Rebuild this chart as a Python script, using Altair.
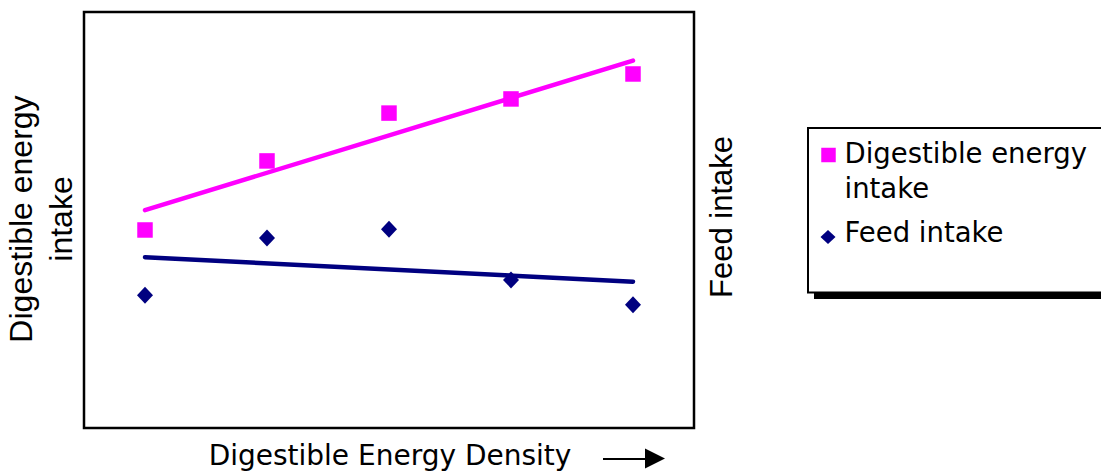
import altair as alt
import pandas as pd

# ---- data ----
density = [1, 2, 3, 4, 5]
de_intake = [47.6, 64.2, 75.7, 79.1, 85.1]
feed_intake = [31.9, 45.7, 47.8, 35.6, 29.6]
series_names = ["Digestible energy intake", "Feed intake"]
series_colors = ["#FF00FF", "#000080"]
legend_labels = ["Digestible energy\nintake", "Feed intake"]
x_title = "Digestible Energy Density"
y_title_lines = ["Digestible energy", "intake"]
y2_title = "Feed intake"

df = pd.DataFrame({
    "density": density * 2,
    "value": de_intake + feed_intake,
    "series": [series_names[0]] * len(density) + [series_names[1]] * len(density),
})
leg_df = pd.DataFrame({"series": series_names, "label": legend_labels})
one = pd.DataFrame({"a": [0]})

DIAMOND = "M0,-1L0.94,0L0,1L-0.94,0Z"
LEG_DIAMOND = "M0,-0.93L1,0L0,0.93L-1,0Z"

W, H = 610, 416
x_scale = alt.Scale(domain=[0.5, 5.5])
y_scale = alt.Scale(domain=[0, 100])
color_scale = alt.Scale(domain=series_names, range=series_colors)

X = alt.X("density:Q", scale=x_scale, axis=None)
Y = alt.Y("value:Q", scale=y_scale, axis=None)
C = alt.Color("series:N", scale=color_scale, legend=None)

lines = alt.Chart(df).transform_regression(
    "density", "value", groupby=["series"]
).mark_line(strokeWidth=4.5, strokeCap="round").encode(x=X, y=Y, color=C)

pts_de = alt.Chart(df).transform_filter(
    alt.datum.series == series_names[0]
).mark_point(shape="square", filled=True, size=240, opacity=1).encode(x=X, y=Y, color=C)

pts_feed = alt.Chart(df).transform_filter(
    alt.datum.series == series_names[1]
).mark_point(shape=DIAMOND, filled=True, size=289, opacity=1).encode(x=X, y=Y, color=C)

# ---- axis titles ----
title_l1 = alt.Chart(one).mark_text(angle=270, align="center", baseline="alphabetic",
                                    font="Liberation Sans", fontSize=32, color="black").encode(
    x=alt.value(-52), y=alt.value(207), text=alt.value(y_title_lines[0]))
title_l2 = alt.Chart(one).mark_text(angle=270, align="center", baseline="alphabetic",
                                    font="Liberation Sans", fontSize=32, color="black").encode(
    x=alt.value(-12), y=alt.value(207), text=alt.value(y_title_lines[1]))
title_r = alt.Chart(one).mark_text(angle=270, align="center", baseline="alphabetic",
                                   font="Liberation Sans", fontSize=31, color="black").encode(
    x=alt.value(648), y=alt.value(205), text=alt.value(y2_title))
title_b = alt.Chart(one).mark_text(align="center", baseline="alphabetic",
                                   font="DejaVu Sans", fontSize=28, color="black").encode(
    x=alt.value(306), y=alt.value(452.5), text=alt.value(x_title))

arrow_line = alt.Chart(one).mark_rule(color="black", strokeWidth=2).encode(
    x=alt.value(519), x2=alt.value(563), y=alt.value(447))
arrow_head = alt.Chart(one).mark_point(shape="M-1,-1L1,0L-1,1Z", filled=True, size=400,
                                       color="black", opacity=1).encode(
    x=alt.value(571), y=alt.value(446.5))

# ---- legend box ----
shadow = alt.Chart(one).mark_rect(color="black").encode(
    x=alt.value(730), x2=alt.value(1040), y=alt.value(122), y2=alt.value(287))
box = alt.Chart(one).mark_rect(fill="white", stroke="black", strokeWidth=2).encode(
    x=alt.value(724), x2=alt.value(1034), y=alt.value(116), y2=alt.value(280.5))

leg_sym_de = alt.Chart(leg_df).transform_filter(alt.datum.series == series_names[0]).mark_point(
    shape="square", filled=True, size=210, opacity=1).encode(
    x=alt.value(744.5), y=alt.value(143), color=C)
leg_sym_feed = alt.Chart(leg_df).transform_filter(alt.datum.series == series_names[1]).mark_point(
    shape=LEG_DIAMOND, filled=True, size=225, opacity=1).encode(
    x=alt.value(744), y=alt.value(225), color=C)
leg_txt_de = alt.Chart(leg_df).transform_filter(alt.datum.series == series_names[0]).mark_text(
    align="left", baseline="alphabetic", font="DejaVu Sans", fontSize=27.5, lineBreak="\n",
    lineHeight=35, color="black").encode(x=alt.value(760.5), y=alt.value(151), text="label:N")
leg_txt_feed = alt.Chart(leg_df).transform_filter(alt.datum.series == series_names[1]).mark_text(
    align="left", baseline="alphabetic", font="DejaVu Sans", fontSize=27.5,
    color="black").encode(x=alt.value(760.5), y=alt.value(230), text="label:N")

chart = alt.layer(
    lines, pts_de, pts_feed,
    title_l1, title_l2, title_r, title_b, arrow_line, arrow_head,
    shadow, box, leg_sym_de, leg_sym_feed, leg_txt_de, leg_txt_feed,
).properties(
    width=W, height=H,
    autosize=alt.AutoSizeParams(type="none"),
    padding={"left": 84, "top": 12, "right": 407, "bottom": 46},
    background="white",
).configure_view(stroke="black", strokeWidth=2.5)

chart.save("out.html", embed_options={"renderer": "svg", "actions": False})
